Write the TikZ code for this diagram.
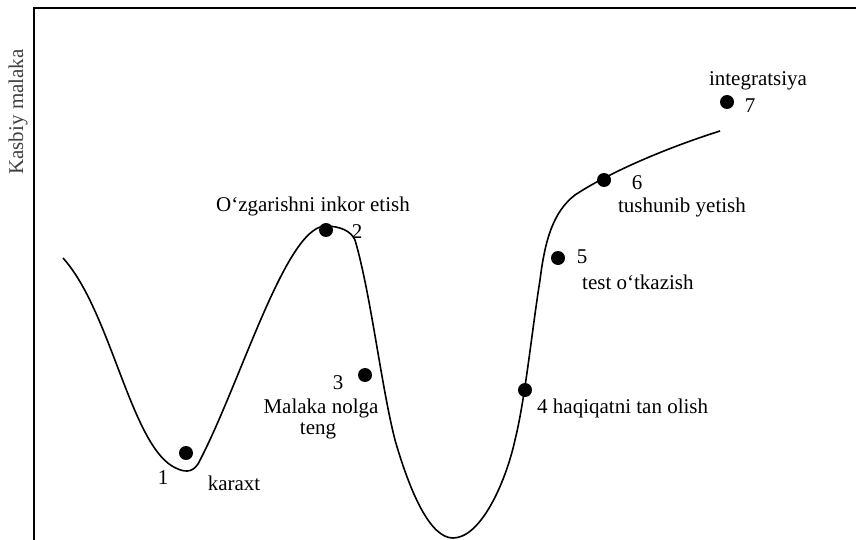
\documentclass[tikz,border=0pt]{standalone}
\usepackage{fontspec}
\setmainfont{Liberation Serif}
\begin{document}
\begin{tikzpicture}[x=1pt,y=-1pt,
  lbl/.style={inner sep=0pt,font=\fontsize{21}{24}\selectfont},
  dot/.style={circle,fill=black,inner sep=0pt,minimum size=14pt},
  curve/.style={line width=1.6pt},
  frame/.style={line width=1.6pt}]
\useasboundingbox (0,0) rectangle (856,540);
\fill[white] (0,0) rectangle (856,540);
% frame
\coordinate (fb) at (34,540);
\coordinate (ftl) at (34,8);
\coordinate (ftr) at (856,8);
\draw[frame] (fb) -- (ftl) -- (ftr);
\node[lbl,rotate=90,text=black!75] (ylab) at (18,112) {Kasbiy malaka};
% curve
\coordinate (c0) at (63,258);
\coordinate (cend) at (720,131);
\draw[curve] (c0) .. controls (110,310) and (130,440) .. (172,466)
  .. controls (184,473) and (192,473) .. (198,464)
  .. controls (240,385) and (285,228) .. (325,226)
  .. controls (340,226) and (351,231) .. (355,240)
  .. controls (371,295) and (381,385) .. (395,440)
  .. controls (410,492) and (430,538) .. (453,538)
  .. controls (480,538) and (505,485) .. (515,440)
  .. controls (525,400) and (532,330) .. (540,280)
  .. controls (545,240) and (553,212) .. (575,195)
  .. controls (605,175) and (660,150) .. (cend);
% dots
\node[dot] (d1) at (186,453) {};
\node[dot] (d2) at (326,230) {};
\node[dot] (d3) at (365,375) {};
\node[dot] (d4) at (525,390) {};
\node[dot] (d5) at (558,258) {};
\node[dot] (d6) at (604,180) {};
\node[dot] (d7) at (727,102) {};
% labels
\node[lbl] (n1) at (163,478) {1};
\node[lbl] (t1) at (234,483) {karaxt};
\node[lbl] (t2) at (313,206) {O‘zgarishni inkor etish};
\node[lbl] (n2) at (357,232) {2};
\node[lbl] (n3) at (338,383) {3};
\node[lbl] (t3a) at (321,408) {Malaka nolga};
\node[lbl] (t3b) at (318,431) {teng};
\node[lbl,anchor=west] (t4) at (537,408) {4 haqiqatni tan olish};
\node[lbl] (n5) at (582,257) {5};
\node[lbl,anchor=west] (t5) at (582,282) {test o‘tkazish};
\node[lbl] (n6) at (637,183) {6};
\node[lbl] (t6) at (682,207) {tushunib yetish};
\node[lbl] (t7) at (758,81) {integratsiya};
\node[lbl] (n7) at (750,106) {7};
\end{tikzpicture}
\end{document}
